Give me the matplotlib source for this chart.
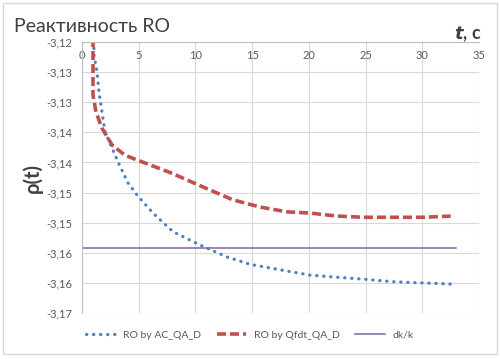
from decimal import Decimal, ROUND_HALF_UP
import matplotlib
matplotlib.use("Agg")
import matplotlib.pyplot as plt
from matplotlib.patches import Rectangle
from matplotlib.ticker import FuncFormatter, MultipleLocator

# RO by AC_QA_D (dotted blue)
t_ac = [0.95, 1.06, 1.32, 1.5, 1.76, 2.03, 2.65, 3.17, 4.06, 4.85, 6.26, 8.02,
        10.4, 12.8, 14.8, 17.7, 20.1, 22.1, 25.0, 27.4, 30.1, 32.6]
ro_ac = [-3.112, -3.1222, -3.1250, -3.1283, -3.1316, -3.1349, -3.1376, -3.1399,
         -3.1434, -3.1454, -3.1484, -3.1515, -3.1537, -3.1557, -3.1569, -3.1579,
         -3.1587, -3.1590, -3.1594, -3.1598, -3.1600, -3.1602]

# RO by Qfdt_QA_D (dashed red)
t_qf = [0.97, 0.97, 1.23, 1.76, 2.65, 3.79, 5.29, 7.94, 10.7, 13.3, 15.7, 18.1,
        20.1, 22.5, 24.8, 27.8, 30.1, 32.5]
ro_qf = [-3.11, -3.1288, -3.1316, -3.1343, -3.1371, -3.1388, -3.1399, -3.1418,
         -3.1441, -3.1462, -3.1474, -3.1482, -3.1484, -3.1489, -3.1491, -3.1491,
         -3.1491, -3.1489]

# dk/k (purple)
t_dk = [0, 33]
ro_dk = [-3.1542, -3.1542]

plt.rcParams['font.family'] = ['Lato', 'DejaVu Sans']

fig = plt.figure(figsize=(5, 3.59), dpi=100)
fig.patches.append(Rectangle((0.006, 0.014), 0.988, 0.977, transform=fig.transFigure,
                             fill=False, edgecolor='#D9D9D9', lw=1))
ax = fig.add_axes([0.164, 0.128, 0.794, 0.755])

ax.plot(t_ac, ro_ac, color='#4F81BD', lw=2.3, linestyle=(0, (0.1, 2.1)),
        dash_capstyle='round', label='RO by AC_QA_D')
ax.plot(t_qf, ro_qf, color='#C0504D', lw=2.6, linestyle=(0, (2.5, 1.1)),
        label='RO by Qfdt_QA_D')
ax.plot(t_dk, ro_dk, color='#8064A2', lw=1.1, label='dk/k')

ax.set_xlim(0, 35)
ax.set_ylim(-3.165, -3.12)
ax.xaxis.set_major_locator(MultipleLocator(5))
ax.yaxis.set_major_locator(MultipleLocator(0.005))


def fmt(v, pos):
    d = Decimal(str(round(v, 4))).quantize(Decimal('0.01'), rounding=ROUND_HALF_UP)
    return str(d).replace('.', ',')


ax.yaxis.set_major_formatter(FuncFormatter(fmt))
ax.grid(True, color='#D9D9D9', lw=0.8)
ax.set_axisbelow(True)
for s in ['bottom', 'right']:
    ax.spines[s].set_visible(False)
for s in ['top', 'left']:
    ax.spines[s].set_color('#BFBFBF')
ax.tick_params(axis='x', top=True, labeltop=True, bottom=False, labelbottom=False,
               length=0, pad=-14, labelsize=8, labelcolor='#595959')
ax.tick_params(axis='y', length=0, pad=7, labelsize=8, labelcolor='#595959')

fig.text(0.028, 0.927, 'Реактивность RO', fontsize=14, color='#404040', va='center')
fig.text(0.964, 0.905, r'$\boldsymbol{t}$, c', fontsize=13, color='#404040',
         fontweight='bold', ha='right', va='center')
fig.text(0.066, 0.505, 'ρ(t)', fontsize=14.5, color='#404040', fontweight='bold',
         rotation=90, ha='center', va='center')

fig.legend(loc='center', bbox_to_anchor=(0.5, 0.067), ncol=3, frameon=False,
           fontsize=7.5, labelcolor='#595959', handlelength=2.8, columnspacing=1.5,
           handletextpad=0.75)

fig.savefig('out.png', dpi=100)
